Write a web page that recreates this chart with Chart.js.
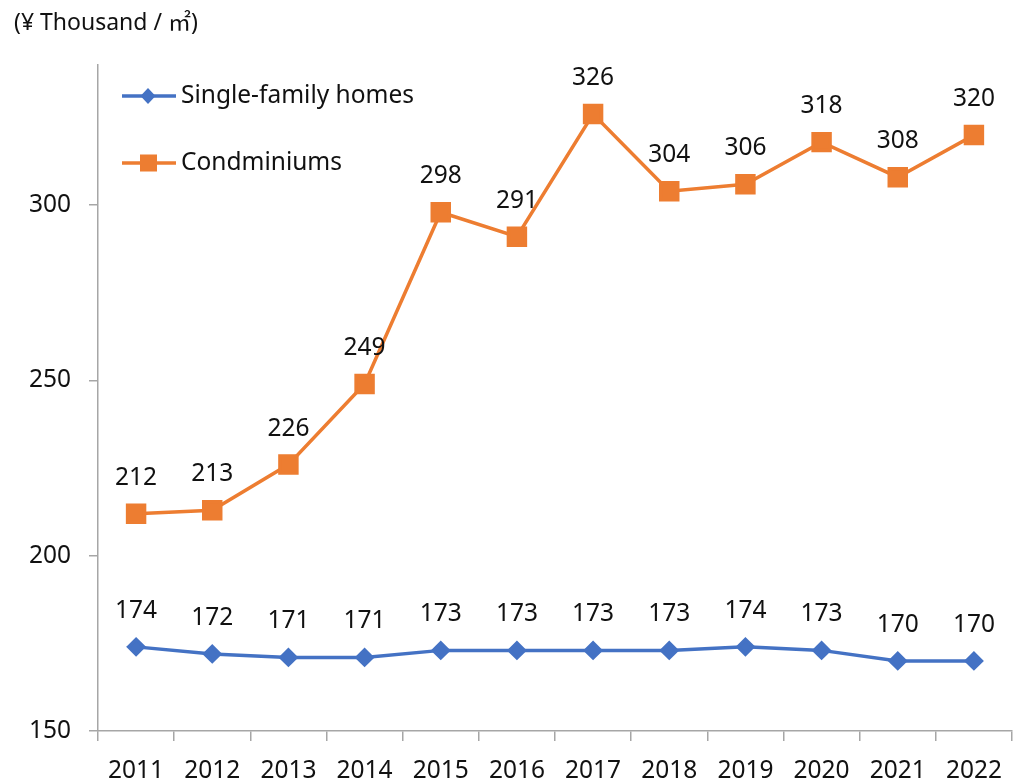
<!DOCTYPE html>
<html>
<head>
<meta charset="utf-8">
<script src="https://cdn.jsdelivr.net/npm/chart.js@4.4.1/dist/chart.umd.min.js"></script>
<style>
  html, body { margin: 0; padding: 0; background: #fff; overflow: hidden; }
  #wrap { position: relative; width: 1013px; height: 784px; }
  #unit { position: absolute; left: 14px; top: 3px; font: 23px "Noto Sans", "Noto Sans CJK JP", sans-serif; color: #111; white-space: nowrap; }
  canvas { display: block; }
</style>
</head>
<body>
<div id="wrap">
  <canvas id="c" width="1013" height="784"></canvas>
  <div id="unit">(¥ Thousand / ㎡)</div>
</div>
<script>
// Average price per square metre, by year
const years = ['2011','2012','2013','2014','2015','2016','2017','2018','2019','2020','2021','2022'];
const singleFamily = [174, 172, 171, 171, 173, 173, 173, 173, 174, 173, 170, 170];
const condominiums = [212, 213, 226, 249, 298, 291, 326, 304, 306, 318, 308, 320];
const yTicks = [150, 200, 250, 300];
const seriesNames = ['Single-family homes', 'Condminiums'];

const BLUE = '#4472C4';
const ORANGE = '#ED7D31';
const AXIS = '#a6a6a6';
const FONT = '"Noto Sans", "Open Sans", sans-serif';

// Value labels above each point
const valueLabels = {
  id: 'valueLabels',
  afterDatasetsDraw(chart) {
    const ctx = chart.ctx;
    ctx.save();
    ctx.font = '24.5px ' + FONT;
    ctx.fillStyle = '#111';
    ctx.textAlign = 'center';
    ctx.textBaseline = 'middle';
    chart.data.datasets.forEach((ds, i) => {
      chart.getDatasetMeta(i).data.forEach((pt, j) => {
        ctx.fillText(String(ds.data[j]), pt.x, pt.y - 36);
      });
    });
    ctx.restore();
  }
};

// Legend drawn inside the plot, top-left
const insideLegend = {
  id: 'insideLegend',
  afterDraw(chart) {
    const ctx = chart.ctx;
    const rows = [96, 163];
    ctx.save();
    chart.data.datasets.forEach((ds, i) => {
      const y = rows[i];
      ctx.strokeStyle = ds.borderColor;
      ctx.lineWidth = 3.5;
      ctx.beginPath();
      ctx.moveTo(122, y);
      ctx.lineTo(176, y);
      ctx.stroke();
      ctx.fillStyle = ds.backgroundColor;
      if (ds.pointStyle === 'rectRot') {
        ctx.beginPath();
        ctx.moveTo(148, y - 8);
        ctx.lineTo(155.5, y);
        ctx.lineTo(148, y + 8);
        ctx.lineTo(140.5, y);
        ctx.closePath();
        ctx.fill();
      } else {
        ctx.fillRect(140, y - 8.5, 17, 17);
      }
      ctx.font = '24.5px ' + FONT;
      ctx.fillStyle = '#111';
      ctx.textAlign = 'left';
      ctx.textBaseline = 'middle';
      ctx.fillText(seriesNames[i], 181, y);
    });
    ctx.restore();
  }
};

// The category axis runs all the way to the right edge, so no extra room
// is reserved for the half-width of the last tick label.
function dropEdgePadding(scale) {
  scale.paddingLeft = 0;
  scale.paddingRight = 0;
}

new Chart(document.getElementById('c'), {
  type: 'line',
  data: {
    labels: years,
    datasets: [
      {
        label: seriesNames[0],
        data: singleFamily,
        borderColor: BLUE,
        backgroundColor: BLUE,
        borderWidth: 3.5,
        pointStyle: 'rectRot',
        pointRadius: 7.5,
        pointHoverRadius: 7.5,
        tension: 0
      },
      {
        label: seriesNames[1],
        data: condominiums,
        borderColor: ORANGE,
        backgroundColor: ORANGE,
        borderWidth: 3.5,
        pointStyle: 'rect',
        pointRadius: 12,
        pointHoverRadius: 12,
        tension: 0
      }
    ]
  },
  options: {
    responsive: false,
    animation: false,
    layout: { autoPadding: false, padding: { top: 65, right: 1, left: 0, bottom: 0 } },
    plugins: {
      legend: { display: false },
      tooltip: { enabled: false }
    },
    scales: {
      x: {
        type: 'category',
        offset: true,
        border: { color: AXIS, width: 1.5 },
        grid: { offset: true, drawOnChartArea: false, tickLength: 10, color: AXIS, lineWidth: 1.5 },
        ticks: { color: '#111', font: { family: FONT, size: 24.5 }, padding: 15, maxRotation: 0, autoSkip: false },
        afterFit(scale) {
          scale.height = 53;
          dropEdgePadding(scale);
        }
      },
      y: {
        min: 150,
        max: 340,
        border: { color: AXIS, width: 1.5 },
        grid: { drawOnChartArea: false, tickLength: 9, color: AXIS, lineWidth: 1.5 },
        ticks: { color: '#111', font: { family: FONT, size: 24.5 }, padding: 18 },
        afterBuildTicks(scale) { scale.ticks = yTicks.map(v => ({ value: v })); },
        afterFit(scale) {
          scale.width = 98;
          scale.paddingTop = 0;
          scale.paddingBottom = 0;
        }
      }
    }
  },
  plugins: [valueLabels, insideLegend]
});
</script>
</body>
</html>
